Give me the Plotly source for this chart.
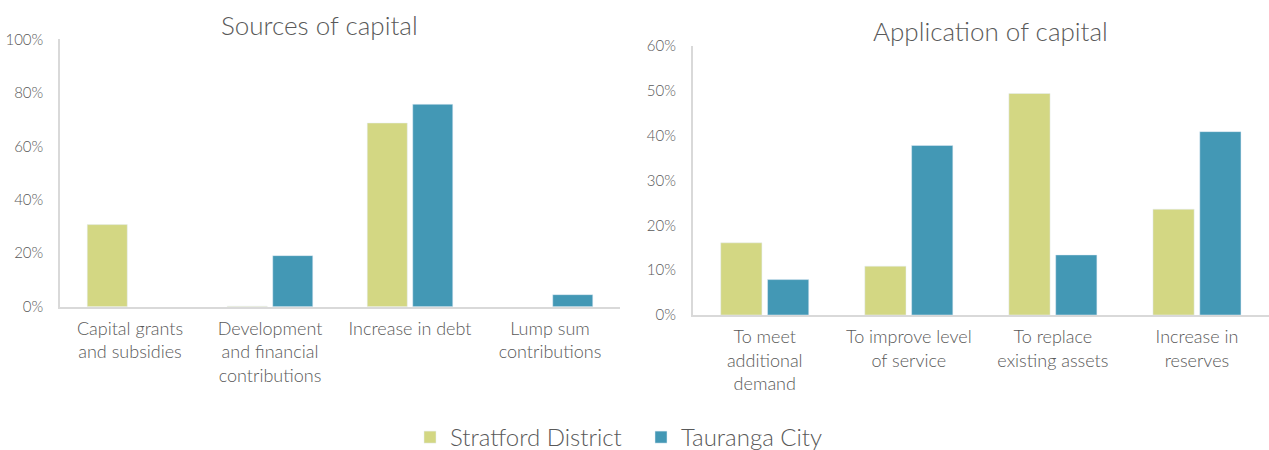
import plotly.graph_objects as go

# ---- Data ----
sources_categories = ["Capital grants<br>and subsidies", "Development<br>and financial<br>contributions",
                      "Increase in debt", "Lump sum<br>contributions"]
sources_stratford = [30.7, 0.2, 68.7, None]
sources_tauranga = [None, 19.1, 75.7, 4.5]

application_categories = ["To meet<br>additional<br>demand", "To improve level<br>of service",
                          "To replace<br>existing assets", "Increase in<br>reserves"]
application_stratford = [16.1, 10.9, 49.4, 23.6]
application_tauranga = [7.9, 37.8, 13.4, 40.9]

series_names = ["Stratford District", "Tauranga City"]
colors = ["#D3D783", "#4398B5"]

FONT = "Lato, 'Open Sans', sans-serif"
TXT = "#595959"
AXIS = "#D9D9D9"

fig = go.Figure()

fig.add_trace(go.Bar(x=sources_categories, y=sources_stratford, name=series_names[0],
                     marker_color=colors[0], legendgroup="s", showlegend=True,
                     xaxis="x", yaxis="y"))
fig.add_trace(go.Bar(x=sources_categories, y=sources_tauranga, name=series_names[1],
                     marker_color=colors[1], legendgroup="t", showlegend=True,
                     xaxis="x", yaxis="y"))
fig.add_trace(go.Bar(x=application_categories, y=application_stratford, name=series_names[0],
                     marker_color=colors[0], legendgroup="s", showlegend=False,
                     xaxis="x2", yaxis="y2"))
fig.add_trace(go.Bar(x=application_categories, y=application_tauranga, name=series_names[1],
                     marker_color=colors[1], legendgroup="t", showlegend=False,
                     xaxis="x2", yaxis="y2"))

W, H = 1269, 450
MB = 32
PH = H - MB  # plot-area height in px (top margin 0)


def py(px_from_top):
    """Convert a pixel row (from top of page) to paper y fraction."""
    return (PH - px_from_top) / PH


xcommon = dict(showgrid=False, showline=True, linecolor=AXIS, linewidth=1.5, ticks="",
               automargin=False, ticklabelstandoff=5,
               tickfont=dict(family=FONT, size=18, color=TXT, weight=300), fixedrange=True)
ycommon = dict(showgrid=False, showline=True, linecolor=AXIS, linewidth=1.5, ticks="",
               ticksuffix="%", zeroline=False, automargin=False, ticklabelstandoff=12,
               tickfont=dict(family=FONT, size=15, color=TXT, weight=300), fixedrange=True)

fig.update_layout(
    width=W, height=H,
    paper_bgcolor="white", plot_bgcolor="white",
    margin=dict(l=0, r=0, t=0, b=MB, autoexpand=False),
    barmode="group", bargap=0.35, bargroupgap=0.12,
    font=dict(family=FONT, color=TXT),
    xaxis=dict(domain=[60 / W, 620 / W], anchor="y", **xcommon),
    yaxis=dict(domain=[py(306.7), py(39.3)], anchor="x", range=[0, 100], dtick=20, **ycommon),
    xaxis2=dict(domain=[692.7 / W, 1.0], anchor="y2", **xcommon),
    yaxis2=dict(domain=[py(315), py(46)], anchor="x2", range=[0, 60], dtick=10, **ycommon),
    legend=dict(orientation="h", x=641 / W, xanchor="center", y=py(460), yanchor="bottom",
                font=dict(family=FONT, size=24, color=TXT, weight=300), itemwidth=30,
                entrywidth=186, traceorder="normal"),
    annotations=[
        dict(text="Sources of capital", x=320 / W, y=py(25), xref="paper", yref="paper",
             xanchor="center", yanchor="middle", showarrow=False,
             font=dict(family=FONT, size=26, color=TXT, weight=300)),
        dict(text="Application of capital", x=990 / W, y=py(31), xref="paper", yref="paper",
             xanchor="center", yanchor="middle", showarrow=False,
             font=dict(family=FONT, size=26, color=TXT, weight=300)),
    ],
)

fig.write_html("out.html", config={"displayModeBar": False},
               post_script="document.body.style.margin='0px';")
